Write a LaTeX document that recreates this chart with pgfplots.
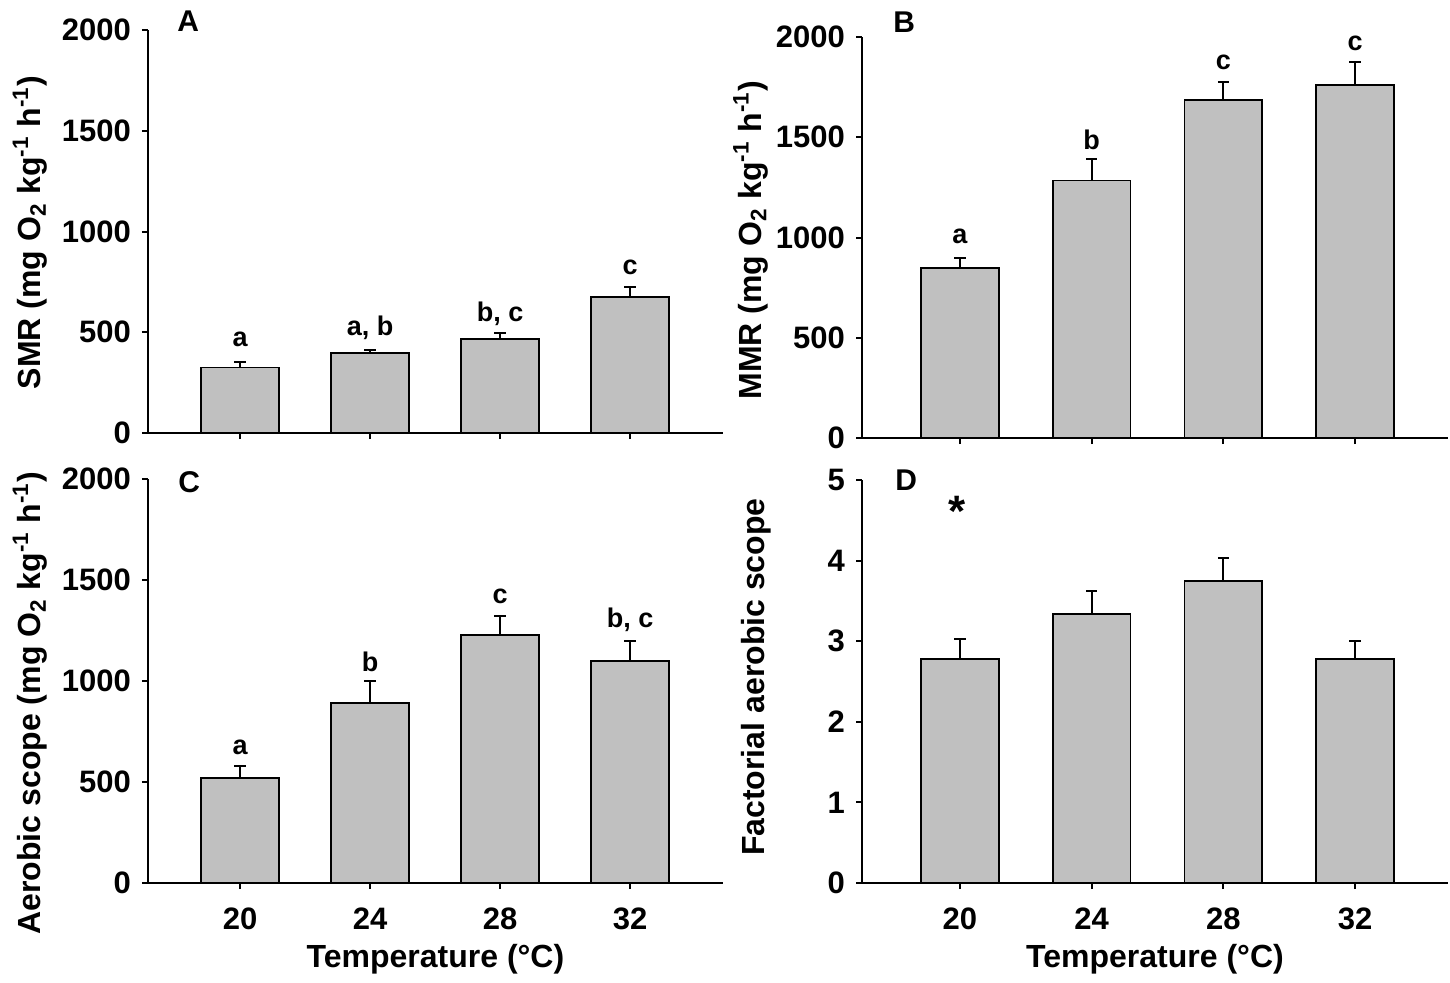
\documentclass[border=0pt]{standalone}
\usepackage{pgfplots}
\pgfplotsset{compat=1.18}
\usepackage{pgfplotstable}
\usepackage{fontspec}
\setmainfont{Liberation Sans}
\definecolor{barfill}{RGB}{192,192,192}

\pgfplotstableread{
x y e
0 325 27
1 397 15
2 466 30
3 675 50
}\SMR
\pgfplotstableread{
x y e
0 849 49
1 1285 105
2 1687 90
3 1762 114
}\MMR
\pgfplotstableread{
x y e
0 520 59
1 891 109
2 1228 94
3 1099 99
}\AS
\pgfplotstableread{
x y e
0 2.78 0.25
1 3.34 0.28
2 3.75 0.28
3 2.78 0.22
}\FAS

\pgfplotsset{
  panel/.style={
    scale only axis,
    clip=false,
    axis x line=bottom,
    axis y line=left,
    axis line style={-, line width=1pt},
    tick align=outside,
    major tick length=3pt,
    every tick/.style={black, line width=1pt},
    tick label style={font=\fontsize{15.5}{17}\selectfont\bfseries},
    /pgf/number format/assume math mode=true,
    /pgf/number format/1000 sep={},
    ybar,
    xtick={0,1,2,3},
    ymin=0,
    yticklabel shift=2pt,
    xticklabel shift=6pt,
    label style={font=\fontsize{16}{18}\selectfont\bfseries},
  },
  bars/.style={
    fill=barfill, draw=black, line width=0.85pt,
    error bars/.cd, y dir=plus, y explicit,
    error bar style={line width=1pt, black},
    error mark options={rotate=90, line width=1pt, mark size=2.8pt, black},
  },
}
\tikzset{
  lett/.style={font=\fontsize{13.5}{15}\selectfont\bfseries, anchor=base, inner sep=0pt},
  plet/.style={font=\fontsize{15}{17}\selectfont\bfseries, anchor=base west, inner sep=0pt},
}

\begin{document}
\begin{tikzpicture}
\useasboundingbox (0,0) rectangle (725pt,-491pt);

% Panel A
\begin{axis}[panel,
  at={(74pt,-216.5pt)}, anchor=south west,
  width=287.5pt, height=201.5pt,
  xmin=-0.708, xmax=3.715, ymax=2000,
  bar width=0.6,
  ytick={0,500,1000,1500,2000},
  xticklabels={},
  ylabel={SMR (mg O\textsubscript{2} kg\textsuperscript{-1} h\textsuperscript{-1})},
  ylabel style={at={(axis description cs:-0.205,0.497)}, anchor=center},
]
\addplot[bars] table[x=x, y=y, y error=e]{\SMR};
\node[lett] at (axis cs:0,427) {a};
\node[lett] at (axis cs:1,486) {a, b};
\node[lett] at (axis cs:2,551) {b, c};
\node[lett] at (axis cs:3,789) {c};
\end{axis}

% Panel B
\begin{axis}[panel,
  at={(431pt,-219pt)}, anchor=south west,
  width=293pt, height=200.5pt,
  xmin=-0.744, xmax=3.706, ymax=2000,
  bar width=0.59,
  ytick={0,500,1000,1500,2000},
  xticklabels={},
  ylabel={MMR (mg O\textsubscript{2} kg\textsuperscript{-1} h\textsuperscript{-1})},
  ylabel style={at={(axis description cs:-0.19,0.493)}, anchor=center},
]
\addplot[bars] table[x=x, y=y, y error=e]{\MMR};
\node[lett] at (axis cs:0,968) {a};
\node[lett] at (axis cs:1,1439) {b};
\node[lett] at (axis cs:2,1836) {c};
\node[lett] at (axis cs:3,1935) {c};
\end{axis}

% Panel C
\begin{axis}[panel,
  at={(74pt,-441.5pt)}, anchor=south west,
  width=287.5pt, height=202pt,
  xmin=-0.708, xmax=3.715, ymax=2000,
  bar width=0.6,
  ytick={0,500,1000,1500,2000},
  xticklabels={20,24,28,32},
  ylabel={Aerobic scope (mg O\textsubscript{2} kg\textsuperscript{-1} h\textsuperscript{-1})},
  ylabel style={at={(axis description cs:-0.205,0.445)}, anchor=center},
  xlabel={Temperature (°C)},
  xlabel style={at={(axis description cs:0.5,0)}, anchor=center, yshift=-38pt},
]
\addplot[bars] table[x=x, y=y, y error=e]{\AS};
\node[lett] at (axis cs:0,634) {a};
\node[lett] at (axis cs:1,1045) {b};
\node[lett] at (axis cs:2,1386) {c};
\node[lett] at (axis cs:3,1267) {b, c};
\end{axis}

% Panel D
\begin{axis}[panel,
  at={(431pt,-441.5pt)}, anchor=south west,
  width=293pt, height=201.5pt,
  xmin=-0.744, xmax=3.706, ymax=5,
  bar width=0.59,
  ytick={0,1,2,3,4,5},
  xticklabels={20,24,28,32},
  ylabel={Factorial aerobic scope},
  ylabel style={at={(axis description cs:-0.18,0.511)}, anchor=center},
  xlabel={Temperature (°C)},
  xlabel style={at={(axis description cs:0.5,0)}, anchor=center, yshift=-38pt},
]
\addplot[bars] table[x=x, y=y, y error=e]{\FAS};
\node[font=\fontsize{22}{24}\selectfont\bfseries, anchor=base, inner sep=0pt] at (axis cs:-0.02,4.42) {*};
\end{axis}

% panel letters
\node[plet] at (88.5pt,-15.5pt) {A};
\node[plet] at (446.5pt,-16pt) {B};
\node[plet] at (89pt,-246pt) {C};
\node[plet] at (447.5pt,-245pt) {D};
\end{tikzpicture}
\end{document}
